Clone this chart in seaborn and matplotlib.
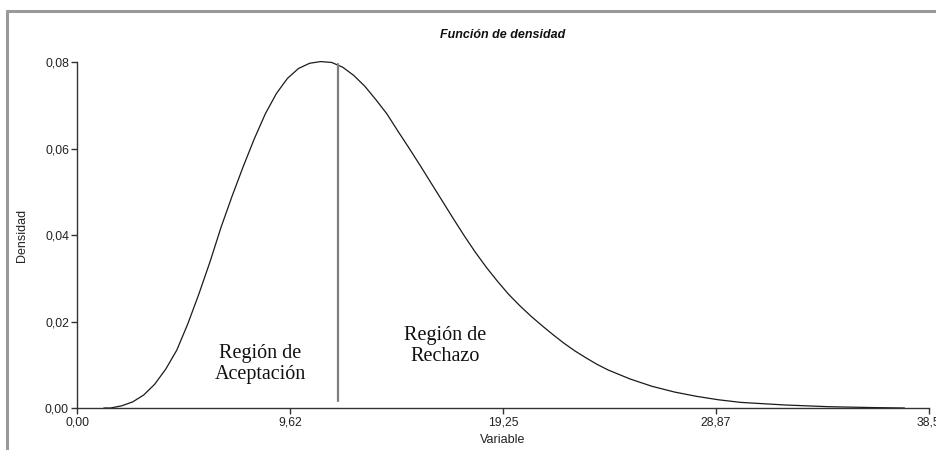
import numpy as np
import pandas as pd
import matplotlib
matplotlib.use("Agg")
import matplotlib.pyplot as plt
from matplotlib.lines import Line2D
import seaborn as sns

# ---- data ----
x_vals = [1.2, 1.5, 2.0, 2.5, 3.0, 3.5, 4.0, 4.5, 5.0, 5.5, 6.0, 6.5, 7.0, 7.5,
          8.0, 8.5, 9.0, 9.5, 10.0, 10.5, 11.0, 11.5, 12.0, 12.5, 13.0, 13.5,
          14.0, 14.5, 15.0, 15.5, 16.0, 16.5, 17.0, 17.5, 18.0, 18.5, 19.0,
          19.5, 20.0, 20.5, 21.0, 21.5, 22.0, 22.5, 23.0, 23.5, 24.0, 25.0,
          26.0, 27.0, 28.0, 29.0, 30.0, 31.0, 32.0, 33.0, 34.0, 35.0, 36.0,
          37.4]
density = [0.0000, 0.0000, 0.0005, 0.0014, 0.0030, 0.0055, 0.0090, 0.0134,
           0.0195, 0.0264, 0.0338, 0.0418, 0.0490, 0.0558, 0.0622, 0.0680,
           0.0727, 0.0762, 0.0785, 0.0797, 0.0801, 0.0799, 0.0788, 0.0769,
           0.0744, 0.0713, 0.0680, 0.0640, 0.0601, 0.0561, 0.0520, 0.0479,
           0.0438, 0.0398, 0.0360, 0.0325, 0.0293, 0.0263, 0.0237, 0.0213,
           0.0191, 0.0170, 0.0150, 0.0132, 0.0116, 0.0101, 0.0088, 0.0067,
           0.0050, 0.0037, 0.0027, 0.0019, 0.0013, 0.0010, 0.0007, 0.0005,
           0.0003, 0.0002, 0.0001, 0.0000]
cutoff_x = 11.78
cutoff_y = [0.0016, 0.0795]
x_ticks = [0.0, 9.62, 19.25, 28.87, 38.5]
x_tick_labels = ["0,00", "9,62", "19,25", "28,87", "38,5"]
y_ticks = [0.0, 0.02, 0.04, 0.06, 0.08]
y_tick_labels = ["0,00", "0,02", "0,04", "0,06", "0,08"]
title = "Función de densidad"
x_label = "Variable"
y_label = "Densidad"
accept_label = "Región de\nAceptación"
reject_label = "Región de\nRechazo"

sns.set_style("white")
plt.rcParams["font.family"] = ["Liberation Sans", "DejaVu Sans"]

fig = plt.figure(figsize=(9.37, 4.5), dpi=100)
ax = fig.add_axes([0.0825, 0.0933, 0.9087, 0.7689])

df = pd.DataFrame({"x": x_vals, "y": density})
sns.lineplot(data=df, x="x", y="y", ax=ax, color="#1a1a1a", linewidth=0.9,
             clip_on=False)
ax.plot([cutoff_x, cutoff_x], cutoff_y, color="#7f7f7f", linewidth=1.6)

ax.set_xlim(x_ticks[0], x_ticks[-1])
ax.set_ylim(y_ticks[0], y_ticks[-1])
ax.set_xticks(x_ticks)
ax.set_xticklabels(x_tick_labels)
ax.set_yticks(y_ticks)
ax.set_yticklabels(y_tick_labels)

for s in ["top", "right"]:
    ax.spines[s].set_visible(False)
for s in ["left", "bottom"]:
    ax.spines[s].set_color("#333333")
    ax.spines[s].set_linewidth(1.0)
ax.tick_params(axis="both", direction="out", length=4, width=1.0,
               color="#333333", labelsize=8.8, labelcolor="#222222", pad=2,
               bottom=True, left=True)

ax.set_xlabel(x_label, fontsize=9, color="#222222", labelpad=4)
ax.set_ylabel(y_label, fontsize=9, color="#222222", labelpad=12)
ax.set_title(title, fontsize=9, fontweight="bold", fontstyle="italic",
             color="#111111", pad=17)

serif = ["Liberation Serif", "DejaVu Serif"]
ax.text(8.26, 0.0102, accept_label, ha="center", va="center",
        family=serif, fontsize=14.5, linespacing=1.1, color="#111111")
ax.text(16.63, 0.0143, reject_label, ha="center", va="center",
        family=serif, fontsize=14.5, linespacing=1.1, color="#111111")

# grey frame of the original window
fig.add_artist(Line2D([0.0075, 0.0075], [0.0, 0.975], color="#9a9a9a",
                      linewidth=2.2, transform=fig.transFigure))
fig.add_artist(Line2D([0.0075, 1.0], [0.975, 0.975], color="#9a9a9a",
                      linewidth=2.2, transform=fig.transFigure))

fig.savefig("out.png", dpi=100)
